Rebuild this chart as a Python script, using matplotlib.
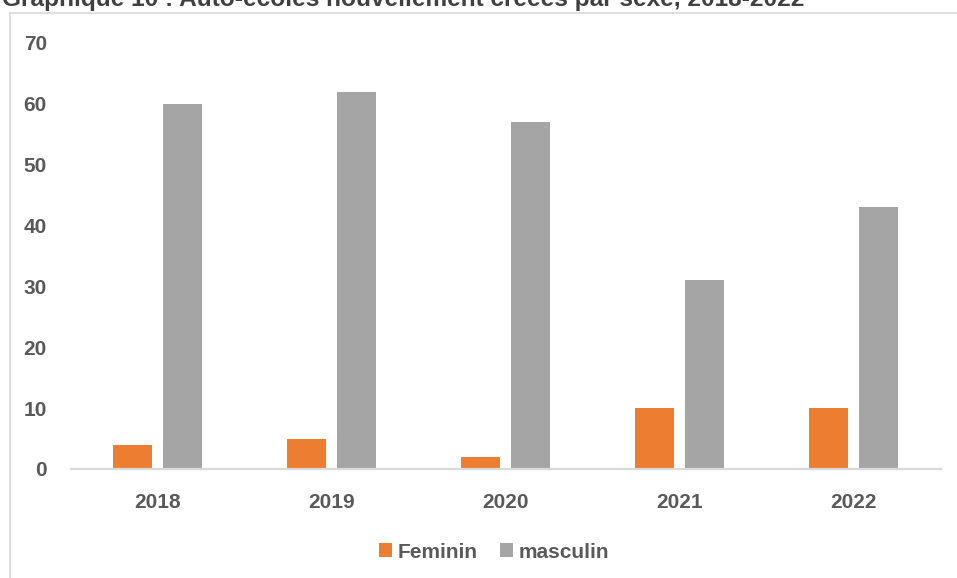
import numpy as np
import matplotlib.pyplot as plt
from matplotlib.lines import Line2D

# Données du graphique
annees = ["2018", "2019", "2020", "2021", "2022"]
feminin = [4, 5, 2, 10, 10]
masculin = [60, 62, 57, 31, 43]
graduations = [0, 10, 20, 30, 40, 50, 60, 70]

titre = "Graphique 10 : Auto-écoles nouvellement créées par sexe, 2018-2022"

polices = ["Liberation Sans Narrow", "Liberation Sans", "DejaVu Sans"]
plt.rcParams["font.family"] = polices
gris_texte = "#595959"
taille = 15

fig = plt.figure(figsize=(9.57, 5.78), dpi=100)
ax = fig.add_axes([70.5 / 957, 109 / 578, 870 / 957, 426 / 578])

x = np.arange(len(annees))
largeur = 0.224
ecart = 0.1437
ax.bar(x - ecart, feminin, largeur, color="#ED7D31", label="Feminin")
ax.bar(x + ecart, masculin, largeur, color="#A5A5A5", label="masculin")

ax.set_xlim(-0.5, len(annees) - 0.5)
ax.set_ylim(0, 70)
ax.set_yticks(graduations)
ax.set_xticks(x)
ax.set_xticklabels(annees)

for s in ["top", "right", "left"]:
    ax.spines[s].set_visible(False)
ax.spines["bottom"].set_color("#D9D9D9")
ax.spines["bottom"].set_linewidth(1.6)

ax.tick_params(axis="y", length=0, pad=17, labelsize=taille, labelcolor=gris_texte)
ax.tick_params(axis="x", length=0, pad=17, labelsize=taille, labelcolor=gris_texte)
for lab in ax.get_xticklabels() + ax.get_yticklabels():
    lab.set_fontweight("bold")

leg = fig.legend(loc="center", bbox_to_anchor=(494 / 957, 26 / 578), ncol=2,
                 frameon=False, prop={"size": taille, "weight": "bold"},
                 handlelength=0.62, handleheight=0.62, handletextpad=0.3,
                 columnspacing=1.05)
for t in leg.get_texts():
    t.set_color(gris_texte)

# Cadre du graphique (coupé en bas et à droite)
y_cadre = (578 - 13) / 578
x_cadre = 9.5 / 957
fig.add_artist(Line2D([x_cadre, 1], [y_cadre, y_cadre], transform=fig.transFigure,
                      color="#D9D9D9", linewidth=1.2))
fig.add_artist(Line2D([x_cadre, x_cadre], [0, y_cadre], transform=fig.transFigure,
                      color="#D9D9D9", linewidth=1.2))

# Titre (partiellement coupé en haut, comme sur l'original)
fig.text(2 / 957, (578 - 6) / 578, titre, fontsize=17.6, fontweight="bold",
         color="#404040", va="baseline", ha="left")

fig.savefig("out.png", dpi=100)
